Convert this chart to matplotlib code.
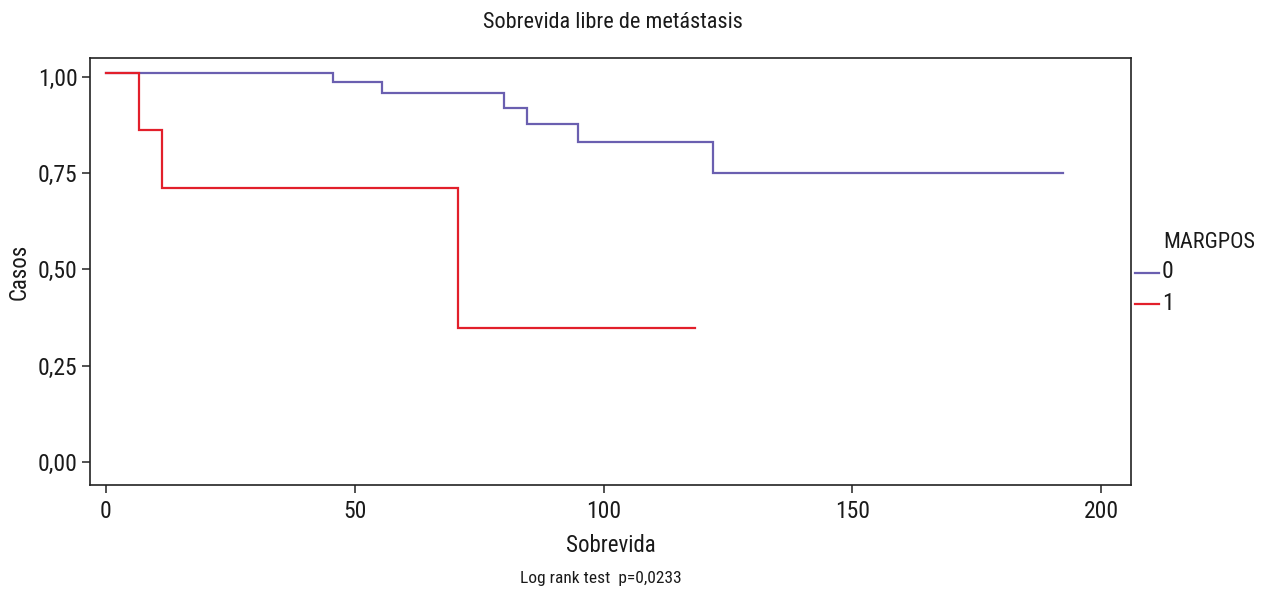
import matplotlib
matplotlib.use("Agg")
import matplotlib.pyplot as plt
from matplotlib.lines import Line2D
from matplotlib import font_manager

# Kaplan-Meier step data (time, survival) for each MARGPOS group
times_0 = [0, 45.7, 55.5, 80.0, 84.6, 94.8, 122.0, 192.4]
surv_0 = [1.012, 0.988, 0.958, 0.920, 0.879, 0.832, 0.750, 0.750]
times_1 = [0, 6.7, 11.3, 70.7, 118.4]
surv_1 = [1.012, 0.863, 0.712, 0.348, 0.348]

groups = ["0", "1"]
colors = ["#6a5fb0", "#e21f2b"]
x_ticks = [0, 50, 100, 150, 200]
y_ticks = [0.0, 0.25, 0.50, 0.75, 1.00]
y_tick_labels = ["0,00", "0,25", "0,50", "0,75", "1,00"]

available = {f.name for f in font_manager.fontManager.ttflist}
family = [f for f in ["Roboto Condensed", "Liberation Sans Narrow", "DejaVu Sans Condensed", "DejaVu Sans"] if f in available]
plt.rcParams["font.family"] = family

W, H = 1264, 589
fig = plt.figure(figsize=(W / 100, H / 100), dpi=100)
ax = fig.add_axes([90 / W, 1 - 485 / H, (1131 - 90) / W, (485 - 58) / H])

ax.step(times_0, surv_0, where="post", color=colors[0], lw=1.6, solid_joinstyle="miter")
ax.step(times_1, surv_1, where="post", color=colors[1], lw=1.6, solid_joinstyle="miter")

ax.set_xlim(-3.2, 206.0)
ax.set_ylim(-0.0606, 1.050)
ax.set_xticks(x_ticks)
ax.set_xticklabels([str(t) for t in x_ticks])
ax.set_yticks(y_ticks)
ax.set_yticklabels(y_tick_labels)
ax.tick_params(axis="both", direction="out", length=6, width=1.2, color="#333333",
               labelsize=17, labelcolor="#1a1a1a")
ax.tick_params(axis="x", pad=5)
ax.tick_params(axis="y", pad=3)
for s in ax.spines.values():
    s.set_linewidth(1.2)
    s.set_color("#222222")

ax.set_xlabel("Sobrevida", fontsize=16.5, color="#1a1a1a", labelpad=8)
ax.set_ylabel("Casos", fontsize=16.5, color="#1a1a1a", labelpad=5)
fig.text(613 / W, 1 - 22 / H, "Sobrevida libre de metástasis", ha="center", va="center",
         fontsize=16, color="#1a1a1a")
fig.text(601 / W, 1 - 579 / H, "Log rank test  p=0,0233", ha="center", va="center",
         fontsize=12.5, color="#1a1a1a")

# Legend
fig.text(1163 / W, 1 - 242 / H, "MARGPOS", ha="left", va="center", fontsize=16, color="#1a1a1a")
for i, (g, c) in enumerate(zip(groups, colors)):
    yy = 1 - (272 + 31 * i) / H
    fig.add_artist(Line2D([1135 / W, 1159 / W], [yy - 1 / H, yy - 1 / H], color=c, lw=1.6,
                          transform=fig.transFigure))
    fig.text(1162 / W, yy, g, ha="left", va="center", fontsize=17, color="#1a1a1a")

fig.savefig("out.png", dpi=100)
